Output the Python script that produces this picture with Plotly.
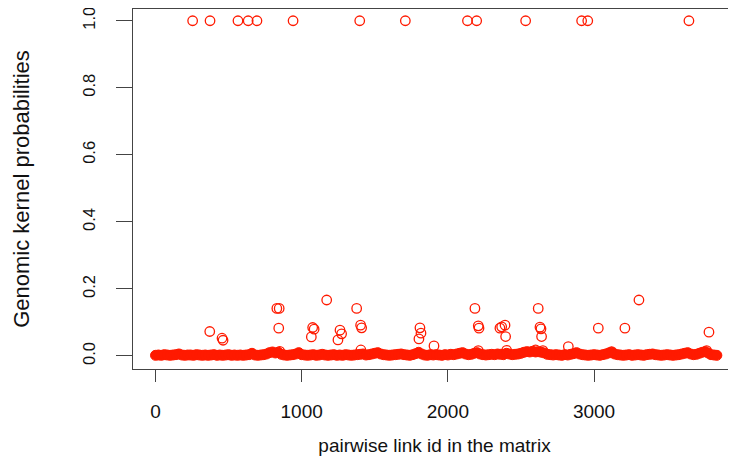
import plotly.graph_objects as go

# Dense near-zero band: sampled link ids (every 20th id) and their probabilities
band_ids = list(range(0, 3841, 20))
band_vals = [
    0.002, 0.003, 0.002, 0.004, 0.003, 0.002, 0.003, 0.004, 0.006, 0.003,
    0.002, 0.003, 0.003, 0.002, 0.004, 0.003, 0.002, 0.003, 0.002, 0.003,
    0.004, 0.002, 0.003, 0.002, 0.003, 0.004, 0.002, 0.003, 0.002, 0.003,
    0.002, 0.003, 0.004, 0.008, 0.003, 0.002, 0.003, 0.004, 0.006, 0.010,
    0.012, 0.009, 0.011, 0.005, 0.003, 0.002, 0.003, 0.004, 0.006, 0.010,
    0.004, 0.003, 0.002, 0.003, 0.004, 0.002, 0.003, 0.005, 0.003, 0.002,
    0.003, 0.004, 0.002, 0.003, 0.002, 0.004, 0.003, 0.002, 0.003, 0.004,
    0.005, 0.006, 0.003, 0.004, 0.006, 0.008, 0.010, 0.006, 0.004, 0.003,
    0.002, 0.003, 0.004, 0.005, 0.006, 0.004, 0.003, 0.002, 0.004, 0.007,
    0.011, 0.006, 0.003, 0.002, 0.004, 0.003, 0.004, 0.003, 0.002, 0.004,
    0.003, 0.005, 0.004, 0.006, 0.008, 0.010, 0.006, 0.004, 0.005, 0.008,
    0.010, 0.006, 0.004, 0.003, 0.004, 0.005, 0.004, 0.006, 0.005, 0.004,
    0.008, 0.006, 0.004, 0.005, 0.006, 0.008, 0.011, 0.013, 0.012, 0.014,
    0.012, 0.013, 0.011, 0.009, 0.005, 0.004, 0.003, 0.004, 0.003, 0.002,
    0.004, 0.003, 0.005, 0.007, 0.010, 0.006, 0.004, 0.003, 0.002, 0.003,
    0.004, 0.003, 0.002, 0.004, 0.006, 0.009, 0.011, 0.006, 0.004, 0.003,
    0.002, 0.003, 0.004, 0.002, 0.003, 0.004, 0.003, 0.002, 0.004, 0.005,
    0.006, 0.004, 0.003, 0.002, 0.003, 0.004, 0.003, 0.002, 0.003, 0.004,
    0.006, 0.008, 0.010, 0.006, 0.004, 0.005, 0.008, 0.011, 0.013, 0.009,
    0.004, 0.003, 0.002,
]

# Links with probability 1
top_ids = [254, 373, 564, 634, 694, 941, 1397, 1709, 2134, 2197, 2532, 2915, 2957, 3649]
top_vals = [1.0] * len(top_ids)

# Other isolated links
mid_ids = [830, 846, 843, 371, 455, 462, 1171, 1376, 1075, 1085, 1066,
           1262, 1273, 1248, 1403, 1410, 1809, 1816, 1802, 1905,
           2185, 2208, 2213, 2368, 2391, 2356, 2395,
           2618, 2630, 2637, 2641, 2824, 3307, 3029, 3211, 3786,
           1405, 2208, 2402, 2600, 2650, 3770, 850, 3120]
mid_vals = [0.142, 0.142, 0.083, 0.073, 0.053, 0.047, 0.167, 0.142, 0.085, 0.080, 0.057,
            0.077, 0.066, 0.048, 0.092, 0.084, 0.084, 0.068, 0.051, 0.030,
            0.142, 0.090, 0.083, 0.087, 0.092, 0.083, 0.058,
            0.142, 0.086, 0.081, 0.058, 0.028, 0.167, 0.083, 0.083, 0.071,
            0.018, 0.016, 0.017, 0.018, 0.016, 0.016, 0.014, 0.013]

x_ticks = [0, 1000, 2000, 3000]
y_ticks = [0.0, 0.2, 0.4, 0.6, 0.8, 1.0]
y_tick_text = ["0.0", "0.2", "0.4", "0.6", "0.8", "1.0"]

RED = "#ff1a00"
FONT = "Liberation Sans, Arial, Helvetica, sans-serif"

fig = go.Figure()
fig.add_trace(go.Scatter(
    x=band_ids, y=band_vals, mode="markers",
    marker=dict(symbol="circle", size=10, color=RED, line=dict(color=RED, width=1)),
    hoverinfo="x+y", showlegend=False))
fig.add_trace(go.Scatter(
    x=mid_ids + top_ids, y=mid_vals + top_vals, mode="markers",
    marker=dict(symbol="circle-open", size=9.5, color=RED, line=dict(color=RED, width=1.3)),
    hoverinfo="x+y", showlegend=False))

fig.update_layout(
    width=728, height=450,
    margin=dict(l=125, r=0, t=1, b=89, autoexpand=False),
    paper_bgcolor="white", plot_bgcolor="white",
    font=dict(family=FONT, size=18, color="#111"),
    xaxis=dict(
        range=[-154, 3971], tickvals=x_ticks, ticktext=[str(v) for v in x_ticks],
        showgrid=False, zeroline=False, showline=True, linecolor="#444", linewidth=1,
        mirror=True, ticks="outside", ticklen=12, tickwidth=1, tickcolor="#444",
        ticklabelstandoff=13, automargin=False, ticklabeloverflow="allow",
        title=dict(text="pairwise link id in the matrix", standoff=17,
                   font=dict(size=19)),
        tickfont=dict(size=19),
    ),
    yaxis=dict(
        range=[-0.0388, 1.035], tickvals=y_ticks, ticktext=y_tick_text,
        showgrid=False, zeroline=False, showline=True, linecolor="#444", linewidth=1,
        ticks="outside", ticklen=16, tickwidth=1, tickcolor="#444",
        tickangle=-90, ticklabelstandoff=14, automargin=False, ticklabeloverflow="allow",
        tickfont=dict(size=16.5),
        title=dict(text="Genomic kernel probabilities", standoff=44),
    ),
)

fig.write_html("out.html")
